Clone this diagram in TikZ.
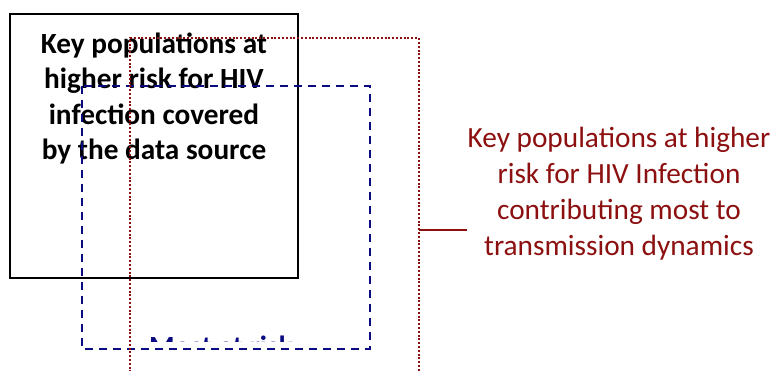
\documentclass[tikz,border=0pt]{standalone}
\usepackage{fontspec}
\setmainfont{Carlito}
\definecolor{kpred}{RGB}{140,16,16}
\definecolor{kpblue}{RGB}{10,10,130}
\begin{document}
\begin{tikzpicture}[x=1pt,y=-1pt,
  blackbox/.style={draw=black,line width=2pt,fill=none},
  bluebox/.style={draw=kpblue,line width=2pt,dash pattern=on 8pt off 6pt},
  redbox/.style={draw=kpred,line width=2pt,dash pattern=on 2pt off 1.8pt},
  bigtext/.style={align=center,inner sep=0pt,font=\fontsize{29.3}{36}\selectfont}]
\clip (0,0) rectangle (774,371);
\fill[white] (0,0) rectangle (774,371);
% black box
\draw[blackbox] (10,14) rectangle (298,278);
\node[bigtext,font=\fontsize{29.3}{35.3}\selectfont\bfseries] (srclabel) at (154,98.5)
  {Key populations at\\higher risk for HIV\\infection covered\\by the data source};
% blue dashed box
\draw[bluebox] (82,86) rectangle (370,349);
\begin{scope}
\clip (82,300) rectangle (370,341.5);
\node[inner sep=0pt,anchor=base,text=kpblue,font=\fontsize{29.3}{30}\selectfont\bfseries] (mar) at (221,356.5) {Most at risk};
\end{scope}
% red dotted box
\draw[redbox] (130,380) -- (130,38) -- (418.5,38) -- (418.5,380);
\coordinate (c1) at (418.5,230);
\node[bigtext,text=kpred] (kp) at (619,194)
  {Key populations at higher\\risk for HIV Infection\\contributing most to\\transmission dynamics};
\draw[kpred,line width=2pt] (c1) -- (c1 -| kp.west);
\end{tikzpicture}
\end{document}
